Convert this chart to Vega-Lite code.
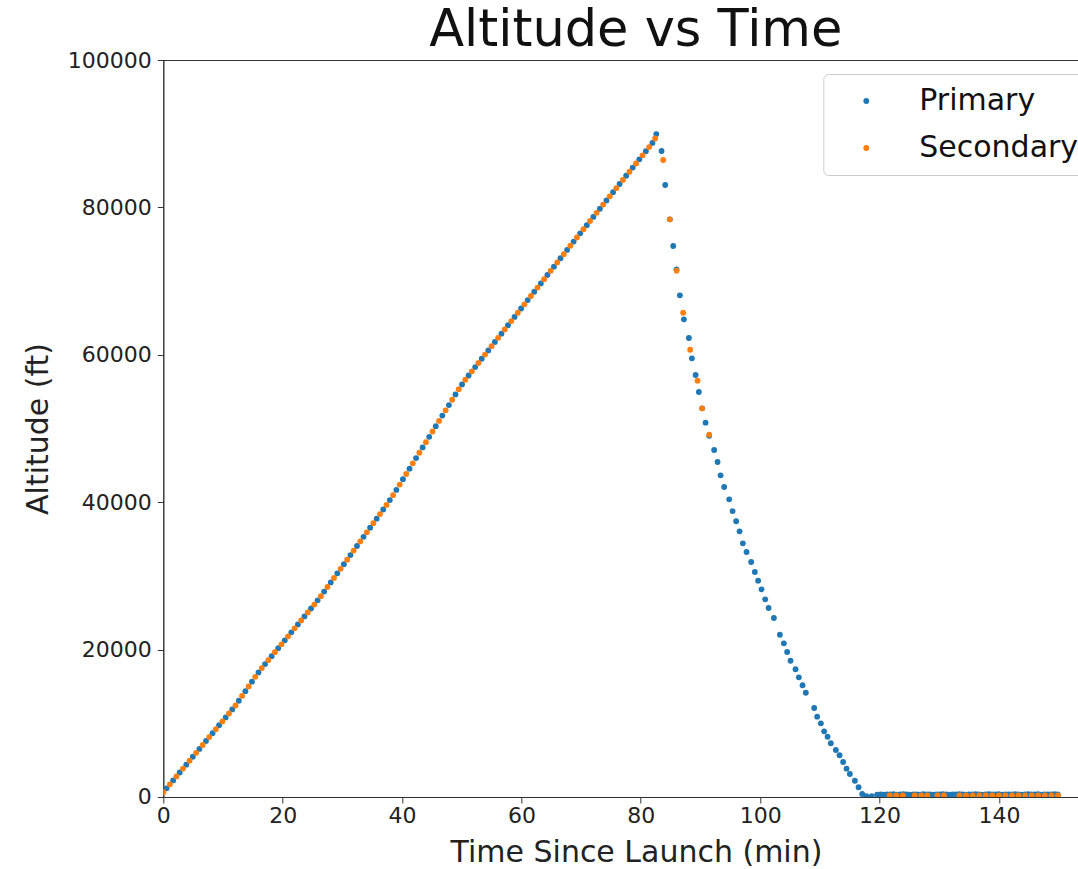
{
  "$schema": "https://vega.github.io/schema/vega-lite/v6.json",
  "autosize": {"type": "none"},
  "padding": {"left": 163.3, "top": 60, "right": 0, "bottom": 72},
  "width": 915,
  "height": 737,
  "title": {"text": "Altitude vs Time", "fontSize": 51, "fontWeight": "normal", "anchor": "middle", "dx": 15, "dy": 8, "offset": 0, "color": "#111", "font": "DejaVu Sans"},
  "data": {"values": [
    {"t":0.55,"alt":1180,"s":"Primary"},{"t":1.65,"alt":2250,"s":"Primary"},{"t":2.75,"alt":3320,"s":"Primary"},{"t":3.85,"alt":4390,"s":"Primary"},{"t":4.95,"alt":5460,"s":"Primary"},{"t":6.05,"alt":6520,"s":"Primary"},{"t":7.15,"alt":7600,"s":"Primary"},{"t":8.25,"alt":8660,"s":"Primary"},{"t":9.35,"alt":9730,"s":"Primary"},{"t":10.45,"alt":10800,"s":"Primary"},
    {"t":11.55,"alt":11880,"s":"Primary"},{"t":12.65,"alt":13060,"s":"Primary"},{"t":13.75,"alt":14360,"s":"Primary"},{"t":14.85,"alt":15650,"s":"Primary"},{"t":15.95,"alt":16900,"s":"Primary"},{"t":17.05,"alt":18030,"s":"Primary"},{"t":18.15,"alt":19110,"s":"Primary"},{"t":19.25,"alt":20190,"s":"Primary"},{"t":20.35,"alt":21260,"s":"Primary"},{"t":21.45,"alt":22340,"s":"Primary"},
    {"t":22.55,"alt":23420,"s":"Primary"},{"t":23.65,"alt":24500,"s":"Primary"},{"t":24.75,"alt":25580,"s":"Primary"},{"t":25.85,"alt":26680,"s":"Primary"},{"t":26.95,"alt":27870,"s":"Primary"},{"t":28.05,"alt":29110,"s":"Primary"},{"t":29.15,"alt":30350,"s":"Primary"},{"t":30.25,"alt":31580,"s":"Primary"},{"t":31.35,"alt":32820,"s":"Primary"},{"t":32.45,"alt":34060,"s":"Primary"},
    {"t":33.55,"alt":35300,"s":"Primary"},{"t":34.65,"alt":36530,"s":"Primary"},{"t":35.75,"alt":37770,"s":"Primary"},{"t":36.85,"alt":39010,"s":"Primary"},{"t":37.95,"alt":40290,"s":"Primary"},{"t":39.05,"alt":41670,"s":"Primary"},{"t":40.15,"alt":43110,"s":"Primary"},{"t":41.25,"alt":44550,"s":"Primary"},{"t":42.35,"alt":45990,"s":"Primary"},{"t":43.45,"alt":47430,"s":"Primary"},
    {"t":44.55,"alt":48870,"s":"Primary"},{"t":45.65,"alt":50310,"s":"Primary"},{"t":46.75,"alt":51750,"s":"Primary"},{"t":47.85,"alt":53180,"s":"Primary"},{"t":48.95,"alt":54620,"s":"Primary"},{"t":50.05,"alt":55980,"s":"Primary"},{"t":51.15,"alt":57190,"s":"Primary"},{"t":52.25,"alt":58330,"s":"Primary"},{"t":53.35,"alt":59460,"s":"Primary"},{"t":54.45,"alt":60600,"s":"Primary"},
    {"t":55.55,"alt":61740,"s":"Primary"},{"t":56.65,"alt":62870,"s":"Primary"},{"t":57.75,"alt":64010,"s":"Primary"},{"t":58.85,"alt":65140,"s":"Primary"},{"t":59.95,"alt":66280,"s":"Primary"},{"t":61.05,"alt":67420,"s":"Primary"},{"t":62.15,"alt":68550,"s":"Primary"},{"t":63.25,"alt":69690,"s":"Primary"},{"t":64.35,"alt":70830,"s":"Primary"},{"t":65.45,"alt":71960,"s":"Primary"},
    {"t":66.55,"alt":73100,"s":"Primary"},{"t":67.65,"alt":74230,"s":"Primary"},{"t":68.75,"alt":75360,"s":"Primary"},{"t":69.85,"alt":76480,"s":"Primary"},{"t":70.95,"alt":77590,"s":"Primary"},{"t":72.05,"alt":78710,"s":"Primary"},{"t":73.15,"alt":79820,"s":"Primary"},{"t":74.25,"alt":80940,"s":"Primary"},{"t":75.35,"alt":82060,"s":"Primary"},{"t":76.45,"alt":83170,"s":"Primary"},
    {"t":77.55,"alt":84290,"s":"Primary"},{"t":78.65,"alt":85400,"s":"Primary"},{"t":79.75,"alt":86520,"s":"Primary"},{"t":80.85,"alt":87630,"s":"Primary"},{"t":81.95,"alt":88750,"s":"Primary"},{"t":82.6,"alt":89950,"s":"Primary"},
    {"t":83.48,"alt":87650,"s":"Primary"},{"t":84.09,"alt":83040,"s":"Primary"},{"t":84.87,"alt":78380,"s":"Primary"},{"t":85.43,"alt":74760,"s":"Primary"},{"t":85.98,"alt":71600,"s":"Primary"},{"t":86.55,"alt":68070,"s":"Primary"},{"t":87.22,"alt":64810,"s":"Primary"},{"t":88.06,"alt":62280,"s":"Primary"},{"t":88.56,"alt":59520,"s":"Primary"},{"t":89.18,"alt":57260,"s":"Primary"},
    {"t":89.73,"alt":54950,"s":"Primary"},{"t":90.28,"alt":52740,"s":"Primary"},{"t":90.85,"alt":50790,"s":"Primary"},{"t":91.46,"alt":49000,"s":"Primary"},{"t":92.29,"alt":47080,"s":"Primary"},{"t":92.86,"alt":45450,"s":"Primary"},{"t":93.37,"alt":43650,"s":"Primary"},{"t":93.97,"alt":42060,"s":"Primary"},{"t":94.81,"alt":40390,"s":"Primary"},{"t":95.38,"alt":38800,"s":"Primary"},
    {"t":95.98,"alt":37410,"s":"Primary"},{"t":96.55,"alt":36050,"s":"Primary"},{"t":97.1,"alt":34420,"s":"Primary"},{"t":97.72,"alt":33240,"s":"Primary"},{"t":98.49,"alt":31890,"s":"Primary"},{"t":99.11,"alt":30530,"s":"Primary"},{"t":99.66,"alt":29350,"s":"Primary"},{"t":100.23,"alt":28180,"s":"Primary"},{"t":100.84,"alt":26820,"s":"Primary"},{"t":101.41,"alt":25640,"s":"Primary"},
    {"t":102.3,"alt":24290,"s":"Primary"},{"t":103.3,"alt":22020,"s":"Primary"},{"t":103.97,"alt":20850,"s":"Primary"},{"t":104.52,"alt":19670,"s":"Primary"},{"t":105.09,"alt":18490,"s":"Primary"},{"t":105.93,"alt":17330,"s":"Primary"},{"t":106.48,"alt":16240,"s":"Primary"},{"t":107.1,"alt":15160,"s":"Primary"},{"t":107.65,"alt":14150,"s":"Primary"},{"t":109.05,"alt":12080,"s":"Primary"},
    {"t":109.55,"alt":10900,"s":"Primary"},{"t":110.17,"alt":10000,"s":"Primary"},{"t":110.72,"alt":8910,"s":"Primary"},{"t":111.29,"alt":8180,"s":"Primary"},{"t":111.84,"alt":7290,"s":"Primary"},{"t":112.68,"alt":6380,"s":"Primary"},{"t":113.3,"alt":5660,"s":"Primary"},{"t":113.9,"alt":4750,"s":"Primary"},{"t":114.47,"alt":3840,"s":"Primary"},{"t":115.03,"alt":3120,"s":"Primary"},
    {"t":115.87,"alt":2210,"s":"Primary"},{"t":116.49,"alt":1320,"s":"Primary"},{"t":117.09,"alt":410,"s":"Primary"},{"t":117.8,"alt":130,"s":"Primary"},{"t":118.7,"alt":130,"s":"Primary"},
    {"t":119.6,"alt":330,"s":"Primary"},{"t":120.15,"alt":350,"s":"Primary"},{"t":120.7,"alt":320,"s":"Primary"},{"t":121.25,"alt":360,"s":"Primary"},{"t":121.8,"alt":340,"s":"Primary"},{"t":122.35,"alt":370,"s":"Primary"},{"t":122.9,"alt":330,"s":"Primary"},{"t":123.45,"alt":350,"s":"Primary"},{"t":124.0,"alt":380,"s":"Primary"},{"t":124.55,"alt":340,"s":"Primary"},
    {"t":125.1,"alt":320,"s":"Primary"},{"t":125.65,"alt":360,"s":"Primary"},{"t":126.2,"alt":350,"s":"Primary"},{"t":126.75,"alt":330,"s":"Primary"},{"t":127.3,"alt":370,"s":"Primary"},{"t":127.85,"alt":340,"s":"Primary"},{"t":128.4,"alt":350,"s":"Primary"},{"t":128.95,"alt":320,"s":"Primary"},{"t":129.5,"alt":360,"s":"Primary"},{"t":130.05,"alt":340,"s":"Primary"},
    {"t":130.6,"alt":370,"s":"Primary"},{"t":131.15,"alt":350,"s":"Primary"},{"t":131.7,"alt":330,"s":"Primary"},{"t":132.25,"alt":360,"s":"Primary"},{"t":132.8,"alt":340,"s":"Primary"},{"t":133.35,"alt":380,"s":"Primary"},{"t":133.9,"alt":350,"s":"Primary"},{"t":134.45,"alt":330,"s":"Primary"},{"t":135.0,"alt":360,"s":"Primary"},{"t":135.55,"alt":340,"s":"Primary"},
    {"t":136.1,"alt":370,"s":"Primary"},{"t":136.65,"alt":350,"s":"Primary"},{"t":137.2,"alt":330,"s":"Primary"},{"t":137.75,"alt":360,"s":"Primary"},{"t":138.3,"alt":380,"s":"Primary"},{"t":138.85,"alt":340,"s":"Primary"},{"t":139.4,"alt":350,"s":"Primary"},{"t":139.95,"alt":370,"s":"Primary"},{"t":140.5,"alt":330,"s":"Primary"},{"t":141.05,"alt":360,"s":"Primary"},
    {"t":141.6,"alt":350,"s":"Primary"},{"t":142.15,"alt":340,"s":"Primary"},{"t":142.7,"alt":370,"s":"Primary"},{"t":143.25,"alt":350,"s":"Primary"},{"t":143.8,"alt":330,"s":"Primary"},{"t":144.35,"alt":360,"s":"Primary"},{"t":144.9,"alt":380,"s":"Primary"},{"t":145.45,"alt":340,"s":"Primary"},{"t":146.0,"alt":350,"s":"Primary"},{"t":146.55,"alt":370,"s":"Primary"},
    {"t":147.1,"alt":330,"s":"Primary"},{"t":147.65,"alt":360,"s":"Primary"},{"t":148.2,"alt":350,"s":"Primary"},{"t":148.75,"alt":340,"s":"Primary"},{"t":149.3,"alt":370,"s":"Primary"},{"t":149.85,"alt":350,"s":"Primary"},
    {"t":0,"alt":650,"s":"Secondary"},{"t":1.1,"alt":1720,"s":"Secondary"},{"t":2.2,"alt":2790,"s":"Secondary"},{"t":3.3,"alt":3850,"s":"Secondary"},{"t":4.4,"alt":4920,"s":"Secondary"},{"t":5.5,"alt":5990,"s":"Secondary"},{"t":6.6,"alt":7060,"s":"Secondary"},{"t":7.7,"alt":8130,"s":"Secondary"},{"t":8.8,"alt":9190,"s":"Secondary"},{"t":9.9,"alt":10260,"s":"Secondary"},
    {"t":11.0,"alt":11330,"s":"Secondary"},{"t":12.1,"alt":12420,"s":"Secondary"},{"t":13.2,"alt":13710,"s":"Secondary"},{"t":14.3,"alt":15000,"s":"Secondary"},{"t":15.4,"alt":16300,"s":"Secondary"},{"t":16.5,"alt":17490,"s":"Secondary"},{"t":17.6,"alt":18570,"s":"Secondary"},{"t":18.7,"alt":19650,"s":"Secondary"},{"t":19.8,"alt":20720,"s":"Secondary"},{"t":20.9,"alt":21800,"s":"Secondary"},
    {"t":22.0,"alt":22880,"s":"Secondary"},{"t":23.1,"alt":23960,"s":"Secondary"},{"t":24.2,"alt":25040,"s":"Secondary"},{"t":25.3,"alt":26110,"s":"Secondary"},{"t":26.4,"alt":27250,"s":"Secondary"},{"t":27.5,"alt":28490,"s":"Secondary"},{"t":28.6,"alt":29730,"s":"Secondary"},{"t":29.7,"alt":30960,"s":"Secondary"},{"t":30.8,"alt":32200,"s":"Secondary"},{"t":31.9,"alt":33440,"s":"Secondary"},
    {"t":33.0,"alt":34680,"s":"Secondary"},{"t":34.1,"alt":35910,"s":"Secondary"},{"t":35.2,"alt":37150,"s":"Secondary"},{"t":36.3,"alt":38390,"s":"Secondary"},{"t":37.4,"alt":39630,"s":"Secondary"},{"t":38.5,"alt":40950,"s":"Secondary"},{"t":39.6,"alt":42390,"s":"Secondary"},{"t":40.7,"alt":43830,"s":"Secondary"},{"t":41.8,"alt":45270,"s":"Secondary"},{"t":42.9,"alt":46710,"s":"Secondary"},
    {"t":44.0,"alt":48150,"s":"Secondary"},{"t":45.1,"alt":49590,"s":"Secondary"},{"t":46.2,"alt":51030,"s":"Secondary"},{"t":47.3,"alt":52460,"s":"Secondary"},{"t":48.4,"alt":53900,"s":"Secondary"},{"t":49.5,"alt":55340,"s":"Secondary"},{"t":50.6,"alt":56620,"s":"Secondary"},{"t":51.7,"alt":57760,"s":"Secondary"},{"t":52.8,"alt":58890,"s":"Secondary"},{"t":53.9,"alt":60030,"s":"Secondary"},
    {"t":55.0,"alt":61170,"s":"Secondary"},{"t":56.1,"alt":62300,"s":"Secondary"},{"t":57.2,"alt":63440,"s":"Secondary"},{"t":58.3,"alt":64570,"s":"Secondary"},{"t":59.4,"alt":65710,"s":"Secondary"},{"t":60.5,"alt":66850,"s":"Secondary"},{"t":61.6,"alt":67980,"s":"Secondary"},{"t":62.7,"alt":69120,"s":"Secondary"},{"t":63.8,"alt":70260,"s":"Secondary"},{"t":64.9,"alt":71390,"s":"Secondary"},
    {"t":66.0,"alt":72530,"s":"Secondary"},{"t":67.1,"alt":73660,"s":"Secondary"},{"t":68.2,"alt":74800,"s":"Secondary"},{"t":69.3,"alt":75920,"s":"Secondary"},{"t":70.4,"alt":77030,"s":"Secondary"},{"t":71.5,"alt":78150,"s":"Secondary"},{"t":72.6,"alt":79260,"s":"Secondary"},{"t":73.7,"alt":80380,"s":"Secondary"},{"t":74.8,"alt":81500,"s":"Secondary"},{"t":75.9,"alt":82610,"s":"Secondary"},
    {"t":77.0,"alt":83730,"s":"Secondary"},{"t":78.1,"alt":84840,"s":"Secondary"},{"t":79.2,"alt":85960,"s":"Secondary"},{"t":80.3,"alt":87070,"s":"Secondary"},{"t":81.4,"alt":88190,"s":"Secondary"},{"t":82.4,"alt":89350,"s":"Secondary"},
    {"t":83.75,"alt":86430,"s":"Secondary"},{"t":84.87,"alt":78380,"s":"Secondary"},{"t":86.0,"alt":71410,"s":"Secondary"},{"t":87.1,"alt":65710,"s":"Secondary"},{"t":88.27,"alt":60690,"s":"Secondary"},{"t":89.51,"alt":56490,"s":"Secondary"},{"t":90.28,"alt":52740,"s":"Secondary"},{"t":91.46,"alt":49160,"s":"Secondary"},
    {"t":121.7,"alt":220,"s":"Secondary"},{"t":122.8,"alt":230,"s":"Secondary"},{"t":123.9,"alt":210,"s":"Secondary"},{"t":125.9,"alt":220,"s":"Secondary"},{"t":127.0,"alt":230,"s":"Secondary"},{"t":128.0,"alt":220,"s":"Secondary"},{"t":129.7,"alt":210,"s":"Secondary"},{"t":130.8,"alt":220,"s":"Secondary"},
    {"t":133.4,"alt":220,"s":"Secondary"},{"t":134.5,"alt":230,"s":"Secondary"},{"t":135.6,"alt":210,"s":"Secondary"},{"t":136.7,"alt":220,"s":"Secondary"},{"t":137.8,"alt":230,"s":"Secondary"},{"t":138.9,"alt":220,"s":"Secondary"},{"t":140.0,"alt":210,"s":"Secondary"},{"t":141.1,"alt":220,"s":"Secondary"},{"t":142.2,"alt":230,"s":"Secondary"},{"t":143.3,"alt":220,"s":"Secondary"},
    {"t":144.4,"alt":210,"s":"Secondary"},{"t":145.5,"alt":220,"s":"Secondary"},{"t":146.6,"alt":230,"s":"Secondary"},{"t":147.7,"alt":220,"s":"Secondary"},{"t":148.8,"alt":210,"s":"Secondary"},{"t":149.9,"alt":220,"s":"Secondary"}
  ]},
  "mark": {"type": "point", "filled": true, "size": 34, "opacity": 1, "clip": true},
  "encoding": {
    "x": {"field": "t", "type": "quantitative", "scale": {"domain": [0, 153.3], "nice": false, "zero": false},
      "axis": {"title": "Time Since Launch (min)", "values": [0, 20, 40, 60, 80, 100, 120, 140], "labelFlush": false, "labelPadding": 3, "titleX": 472.7, "titleY": 65, "titleBaseline": "alphabetic", "titleAlign": "center"}},
    "y": {"field": "alt", "type": "quantitative", "scale": {"domain": [0, 100000], "nice": false},
      "axis": {"title": "Altitude (ft)", "values": [0, 20000, 40000, 60000, 80000, 100000], "format": "d", "labelFlush": false, "labelPadding": 6, "titleX": -116, "titleY": 368.5, "titleAngle": -90, "titleBaseline": "alphabetic", "titleAlign": "center"}},
    "color": {"field": "s", "type": "nominal", "scale": {"domain": ["Primary", "Secondary"], "range": ["#1f77b4", "#ff7f0e"]},
      "legend": {"title": null, "orient": "none", "legendX": 660, "legendY": 14, "labelFontSize": 30, "labelColor": "#111", "symbolType": "circle", "symbolSize": 34, "symbolStrokeWidth": 0, "symbolOffset": 16, "labelOffset": 38, "padding": 12, "rowPadding": 17, "fillColor": "rgba(255,255,255,0.8)", "strokeColor": "#cccccc", "cornerRadius": 5}}
  },
  "config": {
    "font": "DejaVu Sans",
    "view": {"stroke": "#333", "strokeWidth": 1},
    "axis": {"grid": false, "domainColor": "#333", "tickColor": "#333", "labelColor": "#222", "titleColor": "#222", "labelFontSize": 22, "titleFontSize": 30, "titleFontWeight": "normal", "tickSize": 6, "labelFont": "DejaVu Sans", "titleFont": "DejaVu Sans"},
    "legend": {"labelFont": "DejaVu Sans"}
  }
}
